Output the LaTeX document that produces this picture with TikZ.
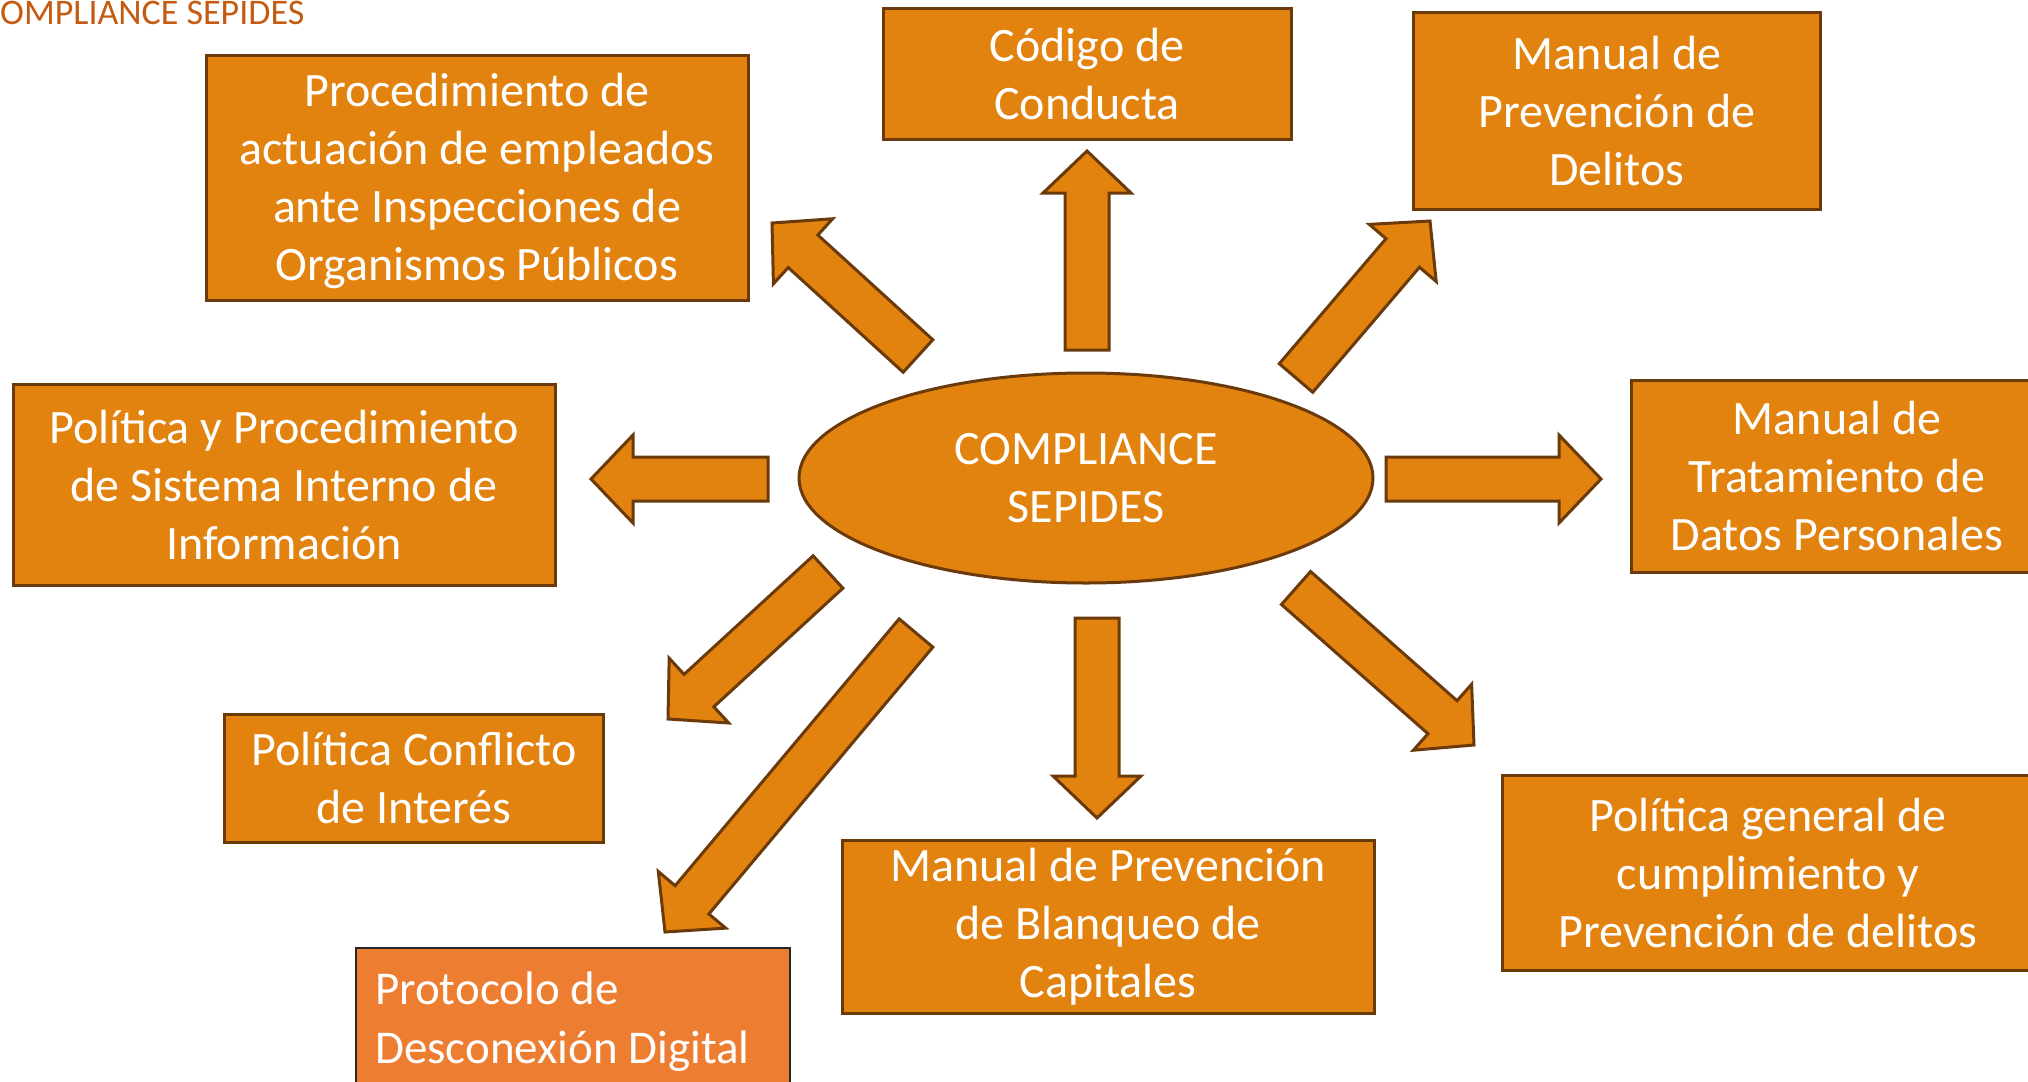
\documentclass[tikz,border=0pt]{standalone}
\usepackage{fontspec}
\setmainfont{Carlito}
\usepackage{tikz}
\usetikzlibrary{calc,shapes.geometric}
\definecolor{naranja}{HTML}{E3830F}
\definecolor{marronBorde}{HTML}{6A3A0B}
\definecolor{naranjaClaro}{HTML}{ED7D31}
\definecolor{grisBorde}{HTML}{262626}
\definecolor{tituloNaranja}{HTML}{C55A11}

% flecha de bloque: nombre, cola, punta
\newcommand{\flecha}[3]{%
  \coordinate (#1-b) at ($(#3)!42pt!(#2)$);
  \draw[flecha] ($(#2)!22pt!90:(#3)$) -- ($(#1-b)!22pt!-90:(#2)$)
    -- ($(#1-b)!44pt!-90:(#2)$) -- (#3)
    -- ($(#1-b)!44pt!90:(#2)$) -- ($(#1-b)!22pt!90:(#2)$)
    -- ($(#2)!22pt!-90:(#3)$) -- cycle;
}

\begin{document}
\begin{tikzpicture}[x=1pt, y=-1pt,
    caja/.style={draw=marronBorde, fill=naranja, line width=3pt,
      text=white, align=center, inner sep=0pt,
      font=\fontsize{48}{58}\selectfont},
    cajaClara/.style={caja, draw=grisBorde, fill=naranjaClaro, line width=2pt},
    texto/.style={text=white, inner sep=0pt, font=\fontsize{47}{59}\selectfont},
    flecha/.style={draw=marronBorde, fill=naranja, line width=3pt,
      line join=miter}]

  \useasboundingbox (0,0) rectangle (2028,1081);
  \clip (0,0) rectangle (2028,1081);

  % ── Título ────────────────────────────────────────────────
  \node[anchor=base west, inner sep=0pt, text=tituloNaranja,
        font=\fontsize{36}{43}\selectfont] (titulo) at (0,25)
    {OMPLIANCE SEPIDES};

  % ── Centro ────────────────────────────────────────────────
  \node[caja, ellipse, minimum width=574pt, minimum height=210pt]
    (centro) at (1086,478) {COMPLIANCE\\SEPIDES};

  % ── Cajas ─────────────────────────────────────────────────
  \node[caja, minimum width=542pt, minimum height=244pt]
    (inspecciones) at (477,178) {};
  \node[text=white, align=center, inner sep=0pt,
        font=\fontsize{48}{58}\selectfont] (inspeccionesTexto)
    at ([yshift=-3pt]inspecciones.center)
    {Procedimiento de\\actuación de empleados\\ante Inspecciones de\\Organismos Públicos};
  \node[caja, minimum width=408pt, minimum height=130pt]
    (codigo) at (1087,74) {Código de\\Conducta};
  \node[caja, minimum width=407pt, minimum height=197pt]
    (delitos) at (1617,111) {Manual de\\Prevención de\\Delitos};
  \node[caja, minimum width=542pt, minimum height=201pt]
    (informacion) at (284,485) {Política y Procedimiento\\de Sistema Interno de\\Información};
  \node[caja, minimum width=411pt, minimum height=192pt]
    (datos) at (1837,476) {Manual de\\Tratamiento de\\Datos Personales};
  \node[caja, minimum width=379pt, minimum height=128pt]
    (conflicto) at (414,778) {Política Conflicto\\de Interés};
  \node[cajaClara, minimum width=434pt, minimum height=148pt]
    (desconexion) at (573,1022) {};
  \node[texto, anchor=west, align=left] (desconexionTexto)
    at ([xshift=20pt]desconexion.west) {Protocolo de\\Desconexión Digital};
  \node[caja, minimum width=532pt, minimum height=173pt]
    (blanqueo) at (1108,927) {Manual de Prevención\\de Blanqueo de\\Capitales};
  \node[caja, minimum width=532pt, minimum height=195pt]
    (cumplimiento) at (1768,873) {Política general de\\cumplimiento y\\Prevención de delitos};

  % ── Flechas ───────────────────────────────────────────────
  \coordinate (a1) at (1087,350);   \coordinate (p1) at (1087,151);
  \coordinate (a2) at (918,356);    \coordinate (p2) at (772,223);
  \coordinate (a3) at (1296,378);   \coordinate (p3) at (1430,221);
  \coordinate (a4) at (768,479);    \coordinate (p4) at (591,479);
  \coordinate (a5) at (1386,479);   \coordinate (p5) at (1601,479);
  \coordinate (a6) at (1097,618);   \coordinate (p6) at (1097,818);
  \coordinate (a7) at (1296,588);   \coordinate (p7) at (1474,745);
  \coordinate (a8) at (828,572);    \coordinate (p8) at (668,719);
  \coordinate (a9) at (916,633);    \coordinate (p9) at (665,932);

  \foreach \i in {1,...,9}{
    \flecha{f\i}{a\i}{p\i}
  }

\end{tikzpicture}
\end{document}
